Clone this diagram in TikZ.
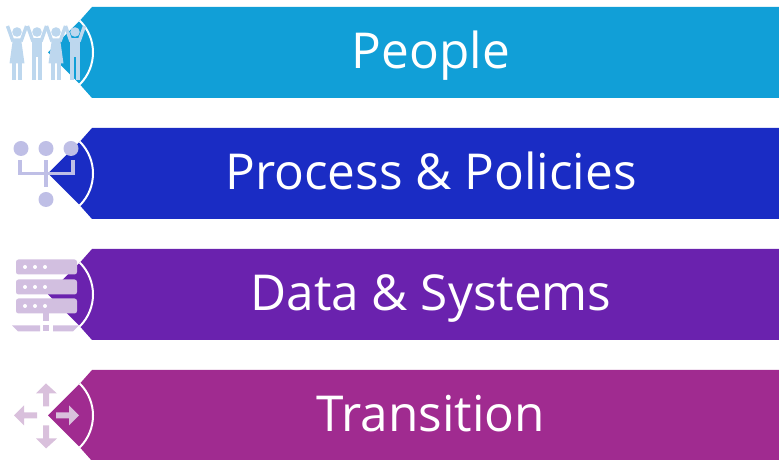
\documentclass[tikz,border=0pt]{standalone}
\usepackage{fontspec}
\setmainfont{Open Sans}
\definecolor{peoplecol}{HTML}{119FD7}
\definecolor{processcol}{HTML}{1A2CC4}
\definecolor{datacol}{HTML}{6A22AE}
\definecolor{transcol}{HTML}{A02B90}
\definecolor{peopleicon}{HTML}{BDD7EE}
\definecolor{processicon}{HTML}{BFBFE6}
\definecolor{dataicon}{HTML}{D2BFE0}
\definecolor{transicon}{HTML}{D9C0DC}
\tikzset{
  bannerlabel/.style={anchor=base,text=white,font=\fontsize{49.5}{50}\selectfont,inner sep=0pt},
  ringline/.style={white,line width=2pt},
  limb/.style={line width=3.4pt}
}
\newcommand{\womanfig}[1]{
  \fill (#1,20.5) circle (4.8);
  \draw[limb] (#1-4,11) -- (#1-9.5,26.5);
  \draw[limb] (#1+4,11) -- (#1+9.5,26.5);
  \fill (#1-4,14) -- (#1+4,14) -- (#1+7.5,-11) -- (#1-7.5,-11) -- cycle;
  \fill (#1-5,-11) rectangle (#1-1.2,-28);
  \fill (#1+1.2,-11) rectangle (#1+5,-28);
}
\newcommand{\manfig}[1]{
  \fill (#1,20.5) circle (4.8);
  \draw[limb] (#1-4,11) -- (#1-9.5,26.5);
  \draw[limb] (#1+4,11) -- (#1+9.5,26.5);
  \fill (#1-5,14) rectangle (#1+5,-5);
  \fill (#1-5,-5) rectangle (#1-0.8,-28);
  \fill (#1+0.8,-5) rectangle (#1+5,-28);
}
\begin{document}
\begin{tikzpicture}[x=1pt,y=1pt]
\useasboundingbox (0,0) rectangle (779,460);
% the four bars
\foreach \rowname/\rowy/\rowcol/\rowtext in {people/407.5/peoplecol/People,process/286.5/processcol/Process \& Policies,data/165.5/datacol/Data \& Systems,trans/44.5/transcol/Transition}{
  \begin{scope}[yshift=\rowy pt]
    \coordinate (\rowname-tip) at (48,0);
    \fill[\rowcol] (92,45.5) -- (779,45.5) -- (779,-45.5) -- (92,-45.5) -- (80,-32) -- (\rowname-tip) -- (80,32) -- cycle;
    \draw[ringline] (\rowname-tip) ++(45:45) arc[start angle=45,end angle=-45,radius=45];
    \node[bannerlabel] (\rowname-label) at (431,-16) {\rowtext};
  \end{scope}
}
% people
\begin{scope}[yshift=407.5pt,peopleicon,draw=peopleicon,fill=peopleicon]
  \womanfig{17}
  \manfig{37}
  \womanfig{56}
  \manfig{75}
\end{scope}
% process
\begin{scope}[yshift=286.5pt]
  \foreach \x in {21,46,71}
    \fill[processicon] (\x,25) circle (7.5);
  \fill[processicon] (46,-26) circle (7.5);
  \draw[processicon,line width=3.5pt] (20,13) -- (20,0) -- (73,0) -- (73,13);
  \draw[processicon,line width=3.5pt] (46,13) -- (46,-14);
\end{scope}
% data
\begin{scope}[yshift=165.5pt]
  \foreach \y in {35,15,-4}{
    \fill[dataicon,rounded corners=2.5pt] (16,\y-15) rectangle (77,\y);
    \foreach \x in {25,35,45}
      \fill[white] (\x,\y-7.5) circle (2);
  }
  \fill[dataicon] (43,-19) rectangle (49,-27);
  \fill[dataicon] (12,-31) -- (40,-31) -- (40,-37) -- (18,-37) -- cycle;
  \fill[dataicon] (43,-31) rectangle (49,-37);
  \fill[dataicon] (53,-31) -- (79,-31) -- (73,-37) -- (53,-37) -- cycle;
\end{scope}
% transition
\begin{scope}[yshift=44.5pt]
  \fill[transicon] (46,32) -- (57,22) -- (49,22) -- (49,9) -- (43,9) -- (43,22) -- (36,22) -- cycle;
  \fill[transicon] (46,-33) -- (57,-23) -- (49,-23) -- (49,-10) -- (43,-10) -- (43,-23) -- (36,-23) -- cycle;
  \fill[transicon] (14,0) -- (24,10) -- (24,3) -- (37,3) -- (37,-3) -- (24,-3) -- (24,-10) -- cycle;
  \fill[transicon] (79,0) -- (69,10) -- (69,3) -- (56,3) -- (56,-3) -- (69,-3) -- (69,-10) -- cycle;
\end{scope}
\end{tikzpicture}
\end{document}
